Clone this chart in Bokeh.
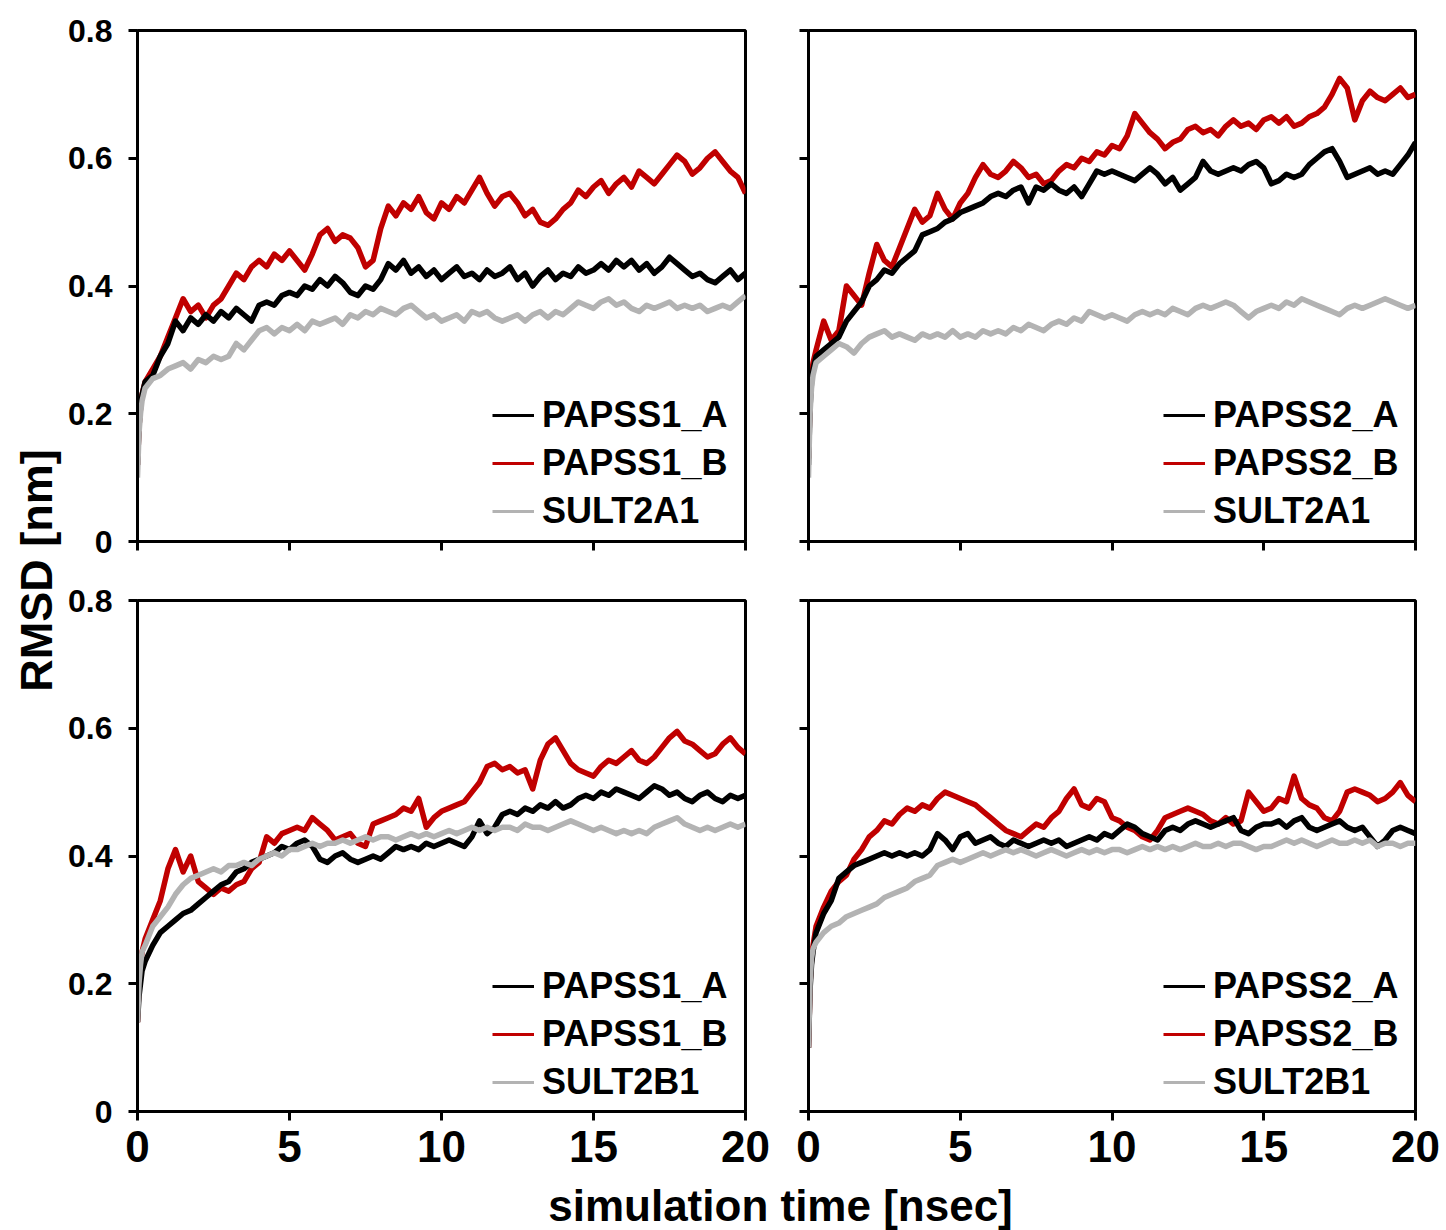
from bokeh.plotting import figure
from bokeh.models import FixedTicker, CustomJSTickFormatter, Legend, LegendItem, Label
from bokeh.layouts import row, column
from bokeh.embed import file_html
from bokeh.resources import INLINE
import math

# ---------------- data ----------------
time_ns = [0, 0.05, 0.1, 0.15,
           0.25, 0.5, 0.75, 1.0, 1.25, 1.5, 1.75, 2.0, 2.25, 2.5, 2.75, 3.0,
           3.25, 3.5, 3.75, 4.0, 4.25, 4.5, 4.75, 5.0, 5.25, 5.5, 5.75, 6.0,
           6.25, 6.5, 6.75, 7.0, 7.25, 7.5, 7.75, 8.0, 8.25, 8.5, 8.75, 9.0,
           9.25, 9.5, 9.75, 10.0, 10.25, 10.5, 10.75, 11.0, 11.25, 11.5, 11.75, 12.0,
           12.25, 12.5, 12.75, 13.0, 13.25, 13.5, 13.75, 14.0, 14.25, 14.5, 14.75, 15.0,
           15.25, 15.5, 15.75, 16.0, 16.25, 16.5, 16.75, 17.0, 17.25, 17.5, 17.75, 18.0,
           18.25, 18.5, 18.75, 19.0, 19.25, 19.5, 19.75, 20.0]

x_ticks = [0, 5, 10, 15, 20]
y_ticks = [0, 0.2, 0.4, 0.6, 0.8]
x_title = "simulation time [nsec]"
y_title = "RMSD [nm]"

# top-left panel: PAPSS1 with SULT2A1
tl_papss1_a = [0.12, 0.18, 0.21, 0.23,
               0.25, 0.26, 0.29, 0.31, 0.345, 0.33, 0.35, 0.34,
               0.355, 0.345, 0.36, 0.35, 0.365, 0.355, 0.345, 0.37,
               0.375, 0.37, 0.385, 0.39, 0.385, 0.40, 0.395, 0.41,
               0.40, 0.415, 0.405, 0.39, 0.385, 0.40, 0.395, 0.41,
               0.435, 0.425, 0.44, 0.42, 0.43, 0.415, 0.425, 0.41,
               0.42, 0.43, 0.415, 0.42, 0.41, 0.425, 0.415, 0.42,
               0.43, 0.41, 0.42, 0.40, 0.415, 0.425, 0.41, 0.42,
               0.415, 0.43, 0.42, 0.425, 0.435, 0.425, 0.44, 0.43,
               0.44, 0.425, 0.435, 0.42, 0.43, 0.445, 0.435, 0.425,
               0.415, 0.42, 0.41, 0.405, 0.415, 0.425, 0.41, 0.42]
tl_papss1_b = [0.12, 0.18, 0.21, 0.23,
               0.25, 0.27, 0.29, 0.32, 0.35, 0.38, 0.36, 0.37,
               0.35, 0.37, 0.38, 0.40, 0.42, 0.41, 0.43, 0.44,
               0.43, 0.45, 0.44, 0.455, 0.44, 0.425, 0.45, 0.48,
               0.49, 0.47, 0.48, 0.475, 0.46, 0.43, 0.44, 0.49,
               0.525, 0.51, 0.53, 0.52, 0.54, 0.515, 0.505, 0.53,
               0.52, 0.54, 0.53, 0.55, 0.57, 0.545, 0.525, 0.54,
               0.545, 0.53, 0.51, 0.52, 0.50, 0.495, 0.505, 0.52,
               0.53, 0.55, 0.54, 0.555, 0.565, 0.545, 0.56, 0.57,
               0.555, 0.58, 0.57, 0.56, 0.575, 0.59, 0.605, 0.595,
               0.575, 0.585, 0.60, 0.61, 0.595, 0.58, 0.57, 0.545]
tl_sult2a1 = [0.10, 0.17, 0.20, 0.22,
              0.24, 0.255, 0.26, 0.27, 0.275, 0.28, 0.27, 0.285,
              0.28, 0.29, 0.285, 0.29, 0.31, 0.30, 0.315, 0.33,
              0.335, 0.325, 0.335, 0.33, 0.34, 0.33, 0.345, 0.34,
              0.345, 0.35, 0.34, 0.355, 0.35, 0.36, 0.355, 0.365,
              0.36, 0.355, 0.365, 0.37, 0.36, 0.35, 0.355, 0.345,
              0.35, 0.355, 0.345, 0.36, 0.355, 0.36, 0.35, 0.345,
              0.35, 0.355, 0.345, 0.355, 0.36, 0.35, 0.36, 0.355,
              0.365, 0.375, 0.37, 0.365, 0.375, 0.38, 0.37, 0.375,
              0.365, 0.36, 0.37, 0.365, 0.37, 0.375, 0.365, 0.37,
              0.365, 0.37, 0.36, 0.365, 0.37, 0.365, 0.375, 0.385]

# top-right panel: PAPSS2 with SULT2A1
tr_papss2_a = [0.12, 0.21, 0.25, 0.27,
               0.29, 0.30, 0.31, 0.32, 0.345, 0.36, 0.375, 0.40,
               0.41, 0.425, 0.42, 0.435, 0.445, 0.455, 0.48, 0.485,
               0.49, 0.50, 0.505, 0.515, 0.52, 0.525, 0.53, 0.54,
               0.545, 0.54, 0.55, 0.555, 0.53, 0.555, 0.55, 0.56,
               0.55, 0.545, 0.555, 0.54, 0.56, 0.58, 0.575, 0.58,
               0.575, 0.57, 0.565, 0.575, 0.585, 0.575, 0.56, 0.57,
               0.55, 0.56, 0.57, 0.595, 0.58, 0.575, 0.58, 0.585,
               0.58, 0.59, 0.595, 0.585, 0.56, 0.565, 0.575, 0.57,
               0.575, 0.59, 0.60, 0.61, 0.615, 0.595, 0.57, 0.575,
               0.58, 0.585, 0.575, 0.58, 0.575, 0.59, 0.605, 0.625]
tr_papss2_b = [0.13, 0.22, 0.26, 0.28,
               0.30, 0.345, 0.315, 0.33, 0.40, 0.385, 0.37, 0.42,
               0.465, 0.44, 0.43, 0.46, 0.49, 0.52, 0.50, 0.51,
               0.545, 0.52, 0.505, 0.53, 0.545, 0.57, 0.59, 0.575,
               0.57, 0.58, 0.595, 0.585, 0.57, 0.575, 0.56, 0.565,
               0.58, 0.59, 0.585, 0.60, 0.595, 0.61, 0.605, 0.62,
               0.615, 0.635, 0.67, 0.655, 0.64, 0.63, 0.615, 0.625,
               0.63, 0.645, 0.65, 0.64, 0.645, 0.635, 0.65, 0.66,
               0.65, 0.655, 0.645, 0.66, 0.665, 0.655, 0.665, 0.65,
               0.655, 0.665, 0.67, 0.68, 0.70, 0.725, 0.71, 0.66,
               0.69, 0.705, 0.695, 0.69, 0.70, 0.71, 0.695, 0.70]
tr_sult2a1 = [0.10, 0.20, 0.24, 0.26,
              0.28, 0.29, 0.30, 0.31, 0.305, 0.295, 0.31, 0.32,
              0.325, 0.33, 0.32, 0.325, 0.32, 0.315, 0.325, 0.32,
              0.325, 0.32, 0.33, 0.32, 0.325, 0.32, 0.33, 0.325,
              0.33, 0.325, 0.335, 0.33, 0.34, 0.335, 0.33, 0.34,
              0.345, 0.34, 0.35, 0.345, 0.36, 0.355, 0.35, 0.355,
              0.35, 0.345, 0.355, 0.36, 0.355, 0.36, 0.355, 0.365,
              0.36, 0.355, 0.365, 0.37, 0.365, 0.37, 0.375, 0.37,
              0.36, 0.35, 0.36, 0.365, 0.37, 0.365, 0.375, 0.37,
              0.38, 0.375, 0.37, 0.365, 0.36, 0.355, 0.365, 0.37,
              0.365, 0.37, 0.375, 0.38, 0.375, 0.37, 0.365, 0.37]

# bottom-left panel: PAPSS1 with SULT2B1
bl_papss1_a = [0.14, 0.18, 0.20, 0.22,
               0.235, 0.26, 0.28, 0.29, 0.30, 0.31, 0.315, 0.325,
               0.335, 0.345, 0.355, 0.36, 0.375, 0.38, 0.39, 0.395,
               0.40, 0.405, 0.415, 0.41, 0.42, 0.425, 0.415, 0.395,
               0.39, 0.40, 0.405, 0.395, 0.39, 0.395, 0.40, 0.395,
               0.405, 0.415, 0.41, 0.415, 0.41, 0.42, 0.415, 0.42,
               0.425, 0.42, 0.415, 0.43, 0.455, 0.435, 0.445, 0.465,
               0.47, 0.465, 0.475, 0.47, 0.48, 0.475, 0.485, 0.475,
               0.48, 0.49, 0.495, 0.49, 0.50, 0.495, 0.505, 0.50,
               0.495, 0.49, 0.50, 0.51, 0.505, 0.495, 0.50, 0.49,
               0.485, 0.495, 0.50, 0.49, 0.485, 0.495, 0.49, 0.495]
bl_papss1_b = [0.14, 0.20, 0.23, 0.25,
               0.27, 0.30, 0.33, 0.38, 0.41, 0.375, 0.40, 0.36,
               0.35, 0.34, 0.35, 0.345, 0.355, 0.36, 0.38, 0.39,
               0.43, 0.42, 0.435, 0.44, 0.445, 0.44, 0.46, 0.45,
               0.44, 0.425, 0.43, 0.435, 0.42, 0.415, 0.45, 0.455,
               0.46, 0.465, 0.475, 0.47, 0.49, 0.445, 0.46, 0.47,
               0.475, 0.48, 0.485, 0.50, 0.515, 0.54, 0.545, 0.535,
               0.54, 0.53, 0.535, 0.505, 0.55, 0.575, 0.585, 0.565,
               0.545, 0.535, 0.53, 0.525, 0.54, 0.55, 0.545, 0.555,
               0.565, 0.55, 0.545, 0.555, 0.57, 0.585, 0.595, 0.58,
               0.575, 0.565, 0.555, 0.56, 0.575, 0.585, 0.57, 0.56]
bl_sult2b1 = [0.14, 0.20, 0.23, 0.25,
              0.26, 0.29, 0.305, 0.32, 0.34, 0.355, 0.365, 0.37,
              0.375, 0.38, 0.375, 0.385, 0.385, 0.39, 0.385, 0.395,
              0.40, 0.405, 0.40, 0.41, 0.41, 0.415, 0.42, 0.415,
              0.42, 0.42, 0.425, 0.42, 0.425, 0.43, 0.425, 0.43,
              0.43, 0.425, 0.43, 0.435, 0.43, 0.435, 0.43, 0.435,
              0.44, 0.435, 0.44, 0.445, 0.44, 0.445, 0.44, 0.445,
              0.445, 0.44, 0.45, 0.445, 0.445, 0.44, 0.445, 0.45,
              0.455, 0.45, 0.445, 0.44, 0.445, 0.44, 0.435, 0.44,
              0.435, 0.44, 0.435, 0.445, 0.45, 0.455, 0.46, 0.45,
              0.445, 0.44, 0.445, 0.44, 0.445, 0.45, 0.445, 0.45]

# bottom-right panel: PAPSS2 with SULT2B1
br_papss2_a = [0.10, 0.19, 0.23, 0.25,
               0.28, 0.31, 0.33, 0.365, 0.375, 0.385, 0.39, 0.395,
               0.40, 0.405, 0.40, 0.405, 0.40, 0.405, 0.40, 0.41,
               0.435, 0.425, 0.41, 0.43, 0.435, 0.42, 0.425, 0.43,
               0.42, 0.415, 0.425, 0.42, 0.415, 0.42, 0.425, 0.42,
               0.425, 0.415, 0.42, 0.425, 0.43, 0.425, 0.435, 0.43,
               0.44, 0.45, 0.445, 0.435, 0.43, 0.425, 0.44, 0.445,
               0.44, 0.45, 0.455, 0.45, 0.445, 0.45, 0.455, 0.46,
               0.44, 0.435, 0.445, 0.45, 0.45, 0.455, 0.445, 0.455,
               0.46, 0.445, 0.44, 0.445, 0.45, 0.455, 0.445, 0.44,
               0.445, 0.43, 0.415, 0.425, 0.44, 0.445, 0.44, 0.435]
br_papss2_b = [0.10, 0.20, 0.24, 0.26,
               0.29, 0.32, 0.345, 0.36, 0.37, 0.395, 0.41, 0.43,
               0.44, 0.455, 0.45, 0.465, 0.475, 0.47, 0.48, 0.475,
               0.49, 0.50, 0.495, 0.49, 0.485, 0.48, 0.47, 0.46,
               0.45, 0.44, 0.435, 0.43, 0.44, 0.45, 0.445, 0.46,
               0.47, 0.49, 0.505, 0.48, 0.475, 0.49, 0.485, 0.46,
               0.455, 0.445, 0.44, 0.43, 0.425, 0.44, 0.46, 0.465,
               0.47, 0.475, 0.47, 0.465, 0.455, 0.45, 0.46, 0.45,
               0.455, 0.50, 0.485, 0.47, 0.475, 0.49, 0.485, 0.525,
               0.49, 0.48, 0.475, 0.46, 0.455, 0.47, 0.50, 0.505,
               0.50, 0.495, 0.485, 0.49, 0.50, 0.515, 0.495, 0.485]
br_sult2b1 = [0.10, 0.20, 0.24, 0.255,
              0.265, 0.28, 0.29, 0.295, 0.305, 0.31, 0.315, 0.32,
              0.325, 0.335, 0.34, 0.345, 0.35, 0.36, 0.365, 0.37,
              0.385, 0.39, 0.395, 0.39, 0.395, 0.40, 0.405, 0.40,
              0.405, 0.41, 0.405, 0.41, 0.405, 0.40, 0.405, 0.41,
              0.405, 0.40, 0.405, 0.41, 0.405, 0.41, 0.405, 0.41,
              0.41, 0.405, 0.41, 0.415, 0.41, 0.415, 0.41, 0.415,
              0.41, 0.415, 0.42, 0.415, 0.415, 0.42, 0.415, 0.42,
              0.42, 0.415, 0.41, 0.415, 0.415, 0.42, 0.425, 0.42,
              0.425, 0.42, 0.415, 0.42, 0.425, 0.42, 0.42, 0.425,
              0.42, 0.425, 0.415, 0.42, 0.42, 0.415, 0.42, 0.42]

# ---------------- styling ----------------
FONT = "Liberation Sans"
BLACK = "#000000"
RED = "#C00000"
GREY = "#B3B3B3"
LW = 5.5          # traces look like thick noisy bands in the reference
LEG_LW = 3        # legend sample lines are thin
NAN = float("nan")


def panel(a, b, s, names, show_y_labels, show_x_labels,
          mb_left, mb_right, mb_top, mb_bottom, width, height, legend_y):
    p = figure(width=width, height=height, x_range=(0, 20), y_range=(0, 0.8),
               output_backend="svg", toolbar_location=None,
               min_border_left=mb_left, min_border_right=mb_right,
               min_border_top=mb_top, min_border_bottom=mb_bottom,
               background_fill_color="white", border_fill_color="white")
    p.xgrid.visible = False
    p.ygrid.visible = False
    p.outline_line_color = "black"
    p.outline_line_width = 3
    p.outline_line_alpha = 1.0

    for ax in (p.xaxis[0], p.yaxis[0]):
        ax.axis_line_width = 3
        ax.axis_line_color = "black"
        ax.major_tick_line_width = 3
        ax.major_tick_line_color = "black"
        ax.major_tick_out = 9
        ax.major_tick_in = 0
        ax.minor_tick_line_color = None
        ax.major_label_text_font = FONT
        ax.major_label_text_font_style = "bold"
        ax.major_label_text_color = "black"
    p.xaxis.ticker = FixedTicker(ticks=x_ticks)
    p.yaxis.ticker = FixedTicker(ticks=y_ticks)
    p.yaxis.formatter = CustomJSTickFormatter(
        code="return tick == 0 ? '0' : tick.toFixed(1);")
    if show_x_labels:
        p.xaxis.major_label_text_font_size = "44px"
        p.xaxis.major_label_standoff = 10
    else:
        p.xaxis.major_label_text_font_size = "1px"
        p.xaxis.major_label_text_color = None
        p.xaxis.major_label_standoff = 0
    if show_y_labels:
        p.yaxis.major_label_text_font_size = "32px"
        p.yaxis.major_label_standoff = 16
    else:
        p.yaxis.major_label_text_font_size = "1px"
        p.yaxis.major_label_text_color = None
        p.yaxis.major_label_standoff = 0

    p.line(time_ns, b, line_color=RED, line_width=LW, line_join="round")
    p.line(time_ns, a, line_color=BLACK, line_width=LW, line_join="round")
    p.line(time_ns, s, line_color=GREY, line_width=LW, line_join="round")

    # legend samples: thin lines holding a single NaN point (nothing drawn in the plot)
    lk = p.line([NAN], [NAN], line_color=BLACK, line_width=LEG_LW)
    lr = p.line([NAN], [NAN], line_color=RED, line_width=LEG_LW)
    lg = p.line([NAN], [NAN], line_color=GREY, line_width=LEG_LW)

    legend = Legend(items=[LegendItem(label=names[0], renderers=[lk]),
                           LegendItem(label=names[1], renderers=[lr]),
                           LegendItem(label=names[2], renderers=[lg])],
                    location=(355, legend_y))
    legend.label_text_font = FONT
    legend.label_text_font_style = "bold"
    legend.label_text_font_size = "36px"
    legend.label_text_color = "black"
    legend.border_line_color = None
    legend.background_fill_alpha = 0
    legend.glyph_width = 42
    legend.glyph_height = 40
    legend.label_height = 40
    legend.label_standoff = 8
    legend.spacing = 6
    legend.padding = 0
    legend.margin = 0
    p.add_layout(legend, "center")
    return p


TOP_H = 30 + 511 + 30          # 0 -> 571
BOT_H = 29 + 511 + 69          # 571 -> 1180
LEFT_W = 73 + 608 + 28         # 64 -> 773
RIGHT_W = 35 + 607 + 31        # 773 -> 1446
YT_W = 64
XT_H = 50                      # 1180 -> 1230

tl = panel(tl_papss1_a, tl_papss1_b, tl_sult2a1, ["PAPSS1_A", "PAPSS1_B", "SULT2A1"],
           True, False, 73, 28, 30, 30, LEFT_W, TOP_H, 9)
tr = panel(tr_papss2_a, tr_papss2_b, tr_sult2a1, ["PAPSS2_A", "PAPSS2_B", "SULT2A1"],
           False, False, 35, 31, 30, 30, RIGHT_W, TOP_H, 9)
bl = panel(bl_papss1_a, bl_papss1_b, bl_sult2b1, ["PAPSS1_A", "PAPSS1_B", "SULT2B1"],
           True, True, 73, 28, 29, 69, LEFT_W, BOT_H, 8)
br = panel(br_papss2_a, br_papss2_b, br_sult2b1, ["PAPSS2_A", "PAPSS2_B", "SULT2B1"],
           False, True, 35, 31, 29, 69, RIGHT_W, BOT_H, 8)

# y-axis title figure
ytf = figure(width=YT_W, height=TOP_H + BOT_H, x_range=(0, 1), y_range=(0, 1),
             output_backend="svg", toolbar_location=None,
             min_border=0, min_border_left=0, min_border_right=0,
             min_border_top=0, min_border_bottom=0)
ytf.axis.visible = False
ytf.grid.visible = False
ytf.outline_line_color = None
ytf.add_layout(Label(x=36, y=TOP_H + BOT_H - 570, x_units="screen", y_units="screen",
                     text=y_title, angle=math.pi / 2, text_align="center",
                     text_baseline="middle", text_font=FONT, text_font_style="bold",
                     text_font_size="45px", text_color="black"))

# x-axis title figure
xtf = figure(width=YT_W + LEFT_W + RIGHT_W, height=XT_H, x_range=(0, 1), y_range=(0, 1),
             output_backend="svg", toolbar_location=None,
             min_border=0, min_border_left=0, min_border_right=0,
             min_border_top=0, min_border_bottom=0)
xtf.axis.visible = False
xtf.grid.visible = False
xtf.outline_line_color = None
xtf.add_layout(Label(x=780, y=XT_H / 2, x_units="screen", y_units="screen",
                     text=x_title, text_align="center", text_baseline="middle",
                     text_font=FONT, text_font_style="bold", text_font_size="44px",
                     text_color="black"))

layout = column(row(ytf, column(row(tl, tr), row(bl, br))), xtf)

open("out.html", "w").write(file_html(layout, INLINE))
